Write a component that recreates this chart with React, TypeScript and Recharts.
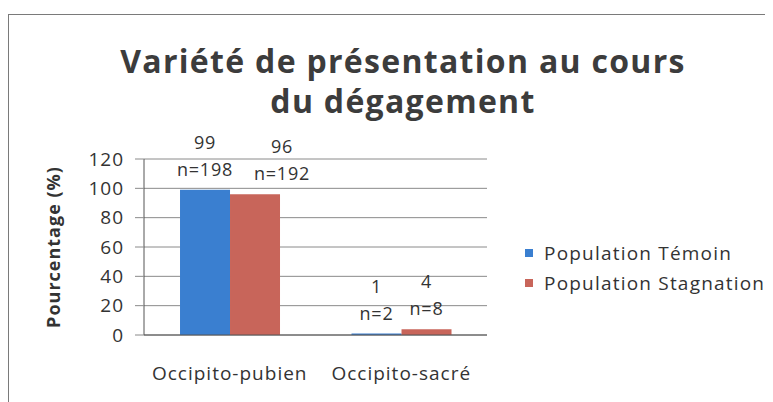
import React from "react";
import {
  Bar,
  BarChart,
  CartesianGrid,
  Label,
  LabelList,
  XAxis,
  YAxis,
} from "recharts";

const categories = ["Occipito-pubien", "Occipito-sacré"];
const seriesNames = ["Population Témoin", "Population Stagnation"];
const seriesColors = ["#3a7fd0", "#c8655a"];
const temoinPct = [99, 1];
const stagnationPct = [96, 4];
const temoinN = [198, 2];
const stagnationN = [192, 8];
const yTicks = [0, 20, 40, 60, 80, 100, 120];

const data = categories.map((name, i) => ({
  name,
  temoin: temoinPct[i],
  stagnation: stagnationPct[i],
}));

const FONT = "'Open Sans', Lato, sans-serif";
const TXT = "#333";

const makeLabel = (counts: number[], shift: number[]) => (props: any) => {
  const { x, y, width, value, index } = props;
  const cx = x + width / 2 + (shift[index] || 0);
  const st = { letterSpacing: 0.8 };
  return (
    <g>
      <text x={cx} y={y - 48} textAnchor="middle" dominantBaseline="central" fontSize={18} fill={TXT} fontFamily={FONT} style={st}>
        {value}
      </text>
      <text x={cx} y={y - 21} textAnchor="middle" dominantBaseline="central" fontSize={18} fill={TXT} fontFamily={FONT} style={st}>
        {"n=" + counts[index]}
      </text>
    </g>
  );
};

export default function App() {
  return (
    <div
      style={{
        position: "relative",
        top: 6,
        width: 790,
        height: 400,
        border: "1px solid #7a7a7a",
        background: "#fff",
        boxSizing: "border-box",
      }}
    >
      <div
        style={{
          position: "absolute",
          left: 0,
          top: 26,
          width: 788,
          textAlign: "center",
          fontFamily: FONT,
          fontWeight: 700,
          fontSize: 32,
          letterSpacing: 1.3,
          lineHeight: "40px",
          color: "#3c3c3c",
        }}
      >
        Variété de présentation au cours
        <br />
        du dégagement
      </div>
      <div style={{ position: "absolute", left: 0, top: 0 }}>
        <BarChart
          width={764}
          height={386}
          data={data}
          margin={{ top: 144, right: 286, left: 0, bottom: 6 }}
          barCategoryGap="21%"
          barGap={0}
        >
          <CartesianGrid vertical={false} stroke="#8a8a8a" />
          <XAxis
            dataKey="name"
            tickLine={false}
            axisLine={{ stroke: "#555" }}
            tickMargin={26}
            height={60}
            tick={{ fontSize: 19, fill: TXT, fontFamily: FONT, style: { letterSpacing: 1 } } as any}
          />
          <YAxis
            width={135}
            domain={[0, 120]}
            ticks={yTicks}
            interval={0}
            tickSize={9}
            tickMargin={11}
            axisLine={{ stroke: "#555" }}
            tickLine={{ stroke: "#8a8a8a" }}
            tick={{ fontSize: 19, fill: TXT, fontFamily: FONT, style: { letterSpacing: 1 } } as any}
          >
            <Label
              value="Pourcentage (%)"
              angle={-90}
              position="center"
              dx={-23}
              style={{ fontSize: 18, fontWeight: 700, fill: TXT, fontFamily: FONT, letterSpacing: 1 }}
            />
          </YAxis>
          <Bar dataKey="temoin" name={seriesNames[0]} fill={seriesColors[0]} isAnimationActive={false}>
            <LabelList dataKey="temoin" content={makeLabel(temoinN, [0, 0])} />
          </Bar>
          <Bar dataKey="stagnation" name={seriesNames[1]} fill={seriesColors[1]} isAnimationActive={false}>
            <LabelList dataKey="stagnation" content={makeLabel(stagnationN, [27, 0])} />
          </Bar>
        </BarChart>
      </div>
      <div
        style={{
          position: "absolute",
          left: 516,
          top: 223,
          fontFamily: FONT,
          fontSize: 19,
          letterSpacing: 1.2,
          color: TXT,
        }}
      >
        {seriesNames.map((n, i) => (
          <div key={n} style={{ display: "flex", alignItems: "center", height: 30 }}>
            <span style={{ width: 8, height: 8, background: seriesColors[i], marginRight: 11 }} />
            <span>{n}</span>
          </div>
        ))}
      </div>
    </div>
  );
}
